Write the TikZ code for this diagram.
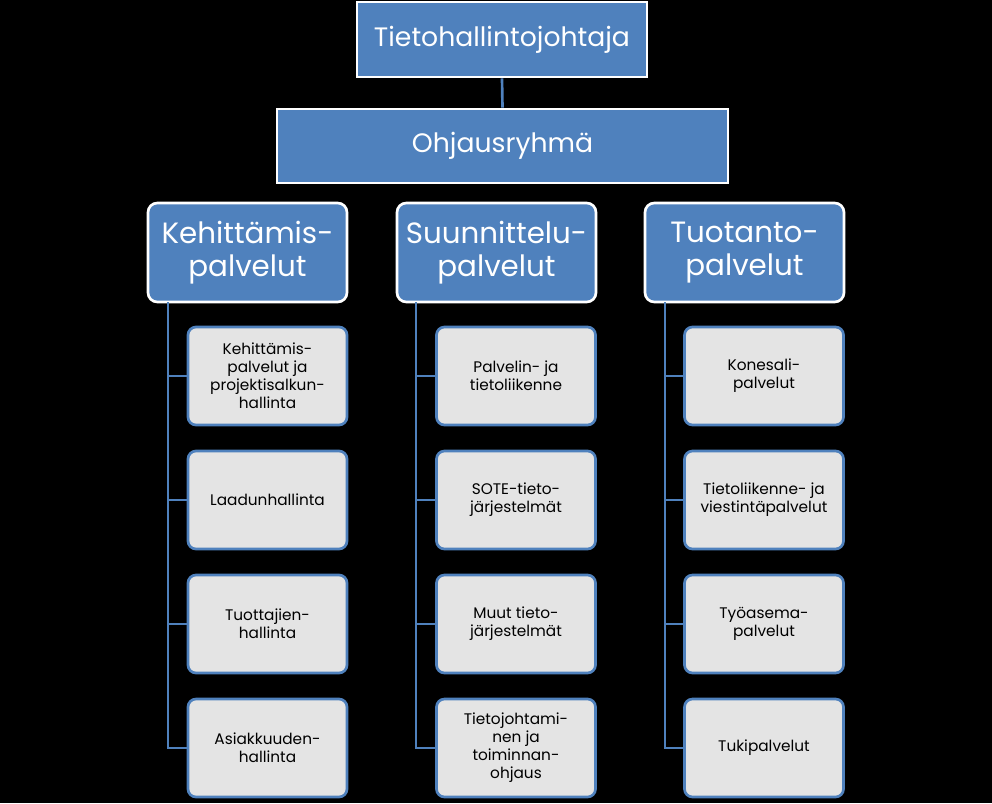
\documentclass[tikz,border=0pt]{standalone}
\usepackage{fontspec}
\setmainfont{Poppins}
\begin{document}
\begin{tikzpicture}[x=0.75pt,y=-0.75pt,
  blu/.style={draw=white,line width=2pt,fill=blueA,text=white,align=center,inner sep=0pt},
  lvl/.style={blu,rounded corners=7pt,font=\fontsize{22}{25}\selectfont},
  kid/.style={draw=blueA,line width=2pt,fill=grayA,rounded corners=6pt,align=center,inner sep=0pt,font=\fontsize{11.5}{13.5}\selectfont},
  con/.style={draw=blueA,line width=2pt}]
\definecolor{blueA}{HTML}{4F81BD}
\definecolor{grayA}{HTML}{E4E4E4}
\fill[black] (0,0) rectangle (992,803);
\useasboundingbox (0,0) rectangle (992,803);
\node[blu,minimum width=290*0.75pt,minimum height=75*0.75pt,font=\fontsize{20}{24}\selectfont] (top) at (502,39.5) {Tietohallintojohtaja};
\node[blu,minimum width=451*0.75pt,minimum height=74*0.75pt,font=\fontsize{20}{24}\selectfont] (oh) at (502.5,146) {Ohjausryhmä};
\draw[con] (top.south) -- (oh.north);
\foreach \n/\x/\t in {a/247.5/{Kehittämis-\\palvelut},b/496.5/{Suunnittelu-\\palvelut},c/744.5/{Tuotanto-\\palvelut}}{
  \node[lvl,minimum width=199*0.75pt,minimum height=99*0.75pt] (\n) at (\x,252.5) {\t};
}
\foreach \n/\x/\lx in {a/267.5/168,b/516/416,c/764/665}{
  \foreach \i/\y in {1/376,2/500,3/624,4/748}{
    \node[kid,minimum width=159*0.75pt,minimum height=98*0.75pt] (\n\i) at (\x,\y) {};
  }
  \coordinate (\n t) at (\lx,302);
  \draw[con] (\n t) |- (\n4.west);
  \foreach \i in {1,2,3}{\draw[con] (\lx,0 |- \n\i.west) -- (\n\i.west);}
}
\node[align=center,font=\fontsize{11.5}{13.5}\selectfont] at (a1) {Kehittämis-\\palvelut ja\\projektisalkun-\\hallinta};
\node[font=\fontsize{11.5}{13.5}\selectfont] at (a2) {Laadunhallinta};
\node[align=center,font=\fontsize{11.5}{13.5}\selectfont] at (a3) {Tuottajien-\\hallinta};
\node[align=center,font=\fontsize{11.5}{13.5}\selectfont] at (a4) {Asiakkuuden-\\hallinta};
\node[align=center,font=\fontsize{11.5}{13.5}\selectfont] at (b1) {Palvelin- ja\\tietoliikenne};
\node[align=center,font=\fontsize{11.5}{13.5}\selectfont] at (b2) {SOTE-tieto-\\järjestelmät};
\node[align=center,font=\fontsize{11.5}{13.5}\selectfont] at (b3) {Muut tieto-\\järjestelmät};
\node[align=center,font=\fontsize{11.5}{13.5}\selectfont] at (b4) {Tietojohtami-\\nen ja\\toiminnan-\\ohjaus};
\node[align=center,font=\fontsize{11.5}{13.5}\selectfont] at (c1) {Konesali-\\palvelut};
\node[align=center,font=\fontsize{11.5}{13.5}\selectfont] at (c2) {Tietoliikenne- ja\\viestintäpalvelut};
\node[align=center,font=\fontsize{11.5}{13.5}\selectfont] at (c3) {Työasema-\\palvelut};
\node[align=center,font=\fontsize{11.5}{13.5}\selectfont] at (c4) {Tukipalvelut};
\end{tikzpicture}
\end{document}
